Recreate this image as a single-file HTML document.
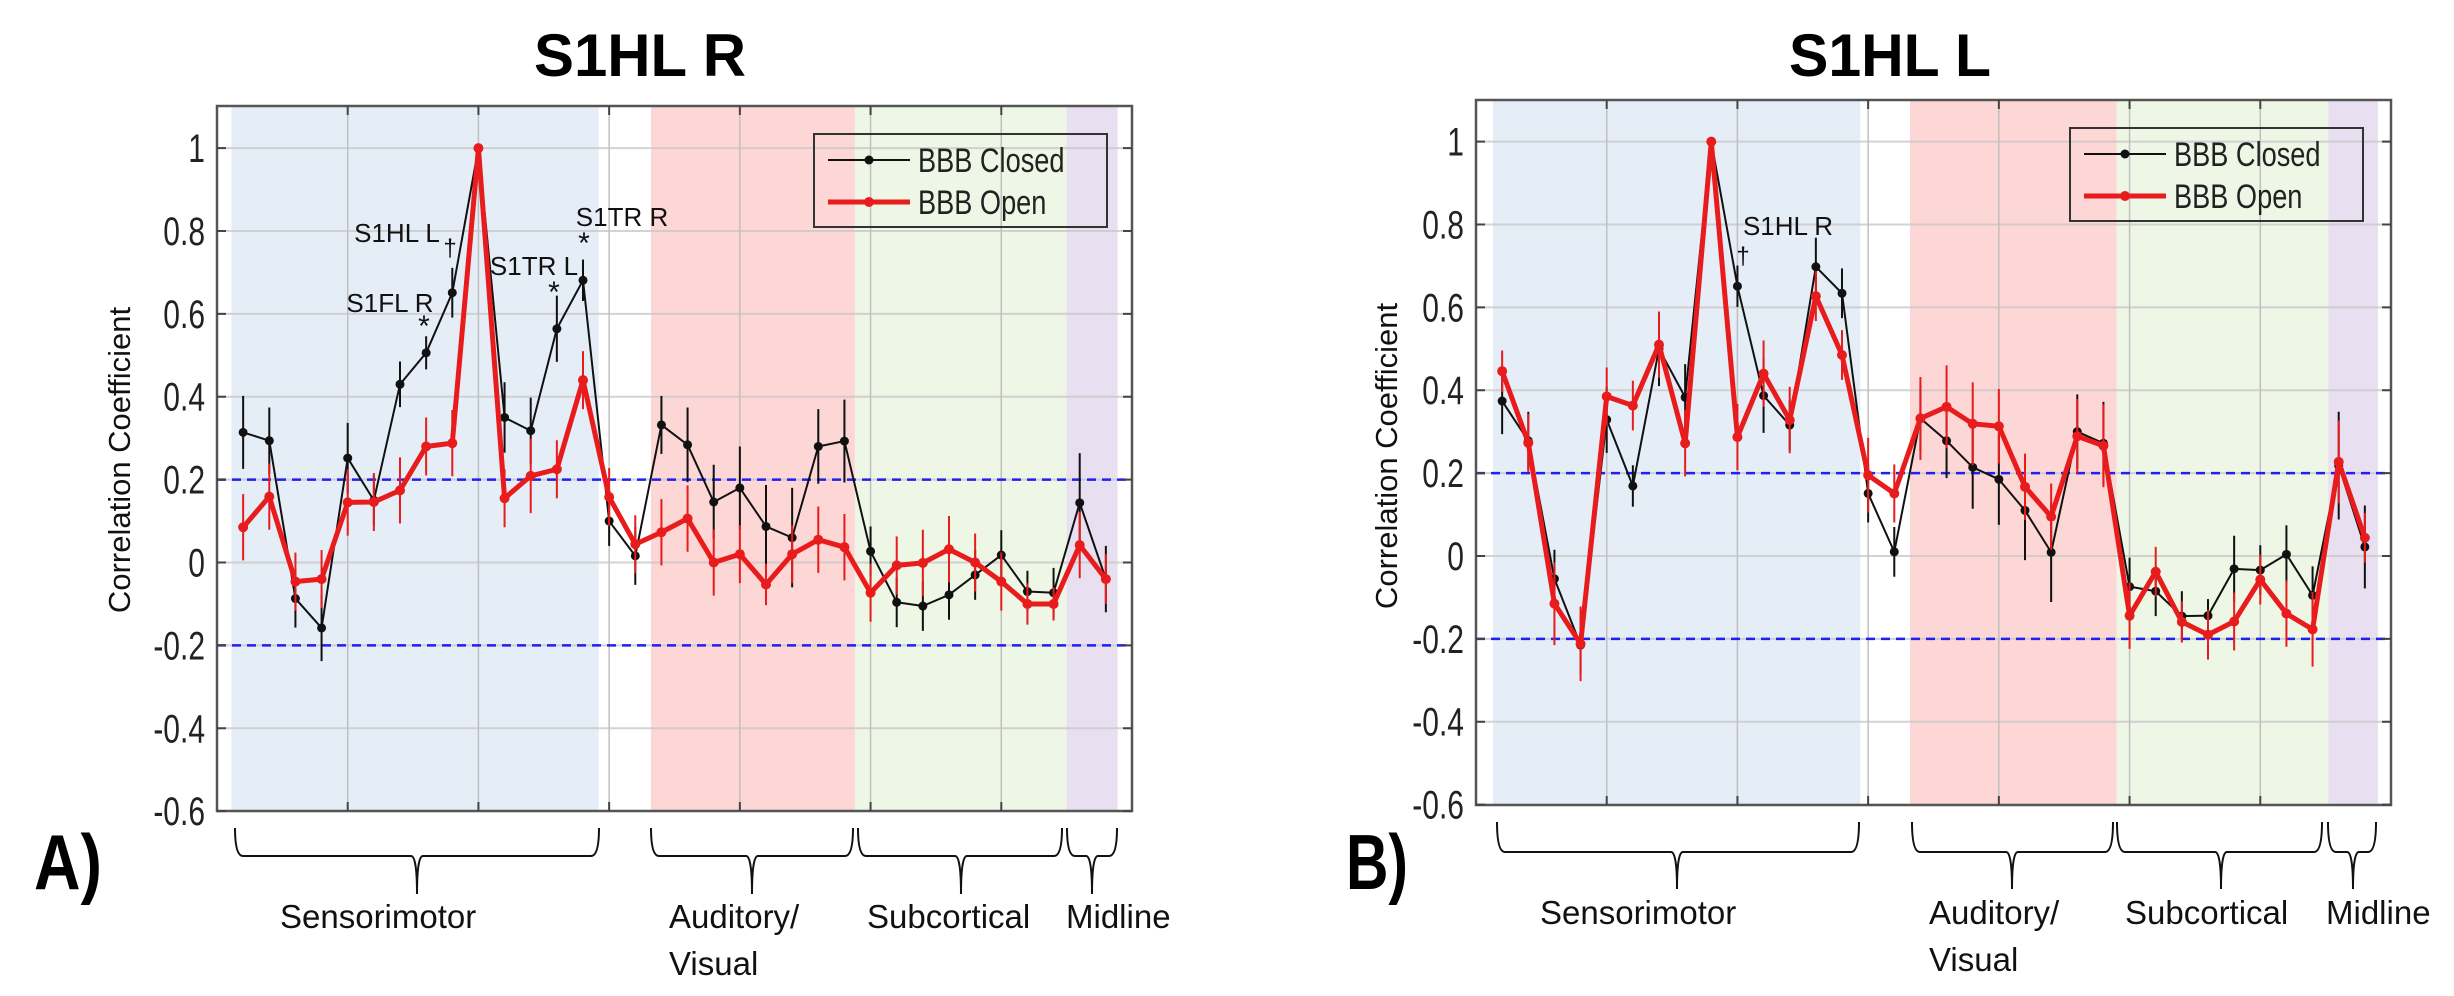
<!DOCTYPE html>
<html><head><meta charset="utf-8"><style>
html,body{margin:0;padding:0;background:#fff;}
svg{display:block;font-family:"Liberation Sans",sans-serif;}
</style></head><body>
<svg id="chart" width="2454" height="996" viewBox="0 0 2454 996" xmlns="http://www.w3.org/2000/svg">
<g id="panelA"></g>
<g id="panelB"></g>
</svg>
<script>
const yTicks = [-0.6,-0.4,-0.2,0,0.2,0.4,0.6,0.8,1];
const yTickLabels = ["-0.6","-0.4","-0.2","0","0.2","0.4","0.6","0.8","1"];
const xGridIdx = [4,9,14,19,24,29];
const closedA = [0.314,0.294,-0.087,-0.158,0.252,0.15,0.43,0.506,0.651,1.0,0.35,0.318,0.564,0.681,0.1,0.016,0.332,0.284,0.146,0.18,0.087,0.06,0.28,0.293,0.027,-0.096,-0.105,-0.078,-0.03,0.018,-0.07,-0.073,0.144,-0.04];
const openA = [0.085,0.159,-0.046,-0.04,0.145,0.146,0.174,0.28,0.288,1.0,0.155,0.209,0.225,0.44,0.158,0.044,0.073,0.106,0,0.02,-0.053,0.02,0.055,0.037,-0.073,-0.007,-0.001,0.032,0,-0.046,-0.1,-0.1,0.042,-0.04];
const errClosedA = [0.088,0.08,0.07,0.08,0.085,0.06,0.055,0.04,0.06,0,0.085,0.08,0.08,0.05,0.06,0.07,0.07,0.09,0.09,0.1,0.1,0.12,0.09,0.1,0.06,0.06,0.06,0.06,0.06,0.06,0.05,0.06,0.12,0.08];
const errOpenA = [0.08,0.08,0.07,0.07,0.08,0.07,0.08,0.07,0.08,0,0.07,0.09,0.07,0.07,0.07,0.07,0.08,0.08,0.08,0.07,0.05,0.07,0.08,0.08,0.07,0.07,0.08,0.08,0.07,0.07,0.05,0.04,0.08,0.06];
const closedB = [0.374,0.278,-0.055,-0.215,0.329,0.169,0.5,0.383,1.0,0.651,0.387,0.316,0.698,0.634,0.151,0.01,0.332,0.278,0.214,0.185,0.11,0.009,0.3,0.272,-0.074,-0.085,-0.145,-0.144,-0.031,-0.034,0.004,-0.095,0.218,0.022];
const openB = [0.446,0.273,-0.115,-0.212,0.385,0.363,0.51,0.272,1.0,0.287,0.44,0.328,0.627,0.485,0.195,0.151,0.332,0.36,0.319,0.313,0.167,0.095,0.289,0.266,-0.144,-0.038,-0.159,-0.19,-0.158,-0.057,-0.139,-0.177,0.227,0.044];
const errClosedB = [0.08,0.07,0.07,0.07,0.08,0.05,0.09,0.08,0,0.05,0.09,0.06,0.07,0.06,0.07,0.06,0.08,0.09,0.1,0.11,0.12,0.12,0.09,0.1,0.07,0.06,0.06,0.04,0.08,0.06,0.07,0.07,0.13,0.1];
const errOpenB = [0.05,0.07,0.1,0.09,0.07,0.06,0.08,0.08,0,0.08,0.08,0.08,0.06,0.06,0.09,0.07,0.1,0.1,0.1,0.09,0.08,0.08,0.09,0.1,0.08,0.06,0.05,0.06,0.07,0.06,0.08,0.09,0.1,0.06];

const NS="http://www.w3.org/2000/svg";
function mk(parent,tag,attrs,text){const e=document.createElementNS(NS,tag);for(const k in attrs)e.setAttribute(k,attrs[k]);if(text!==undefined)e.textContent=text;parent.appendChild(e);return e;}

function drawPanel(g, cfg, closed, open, eC, eO){
  const sx = (cfg.R-cfg.L)/35;
  const x = i => cfg.L + (i+1)*sx;
  const y = v => cfg.y0 - v*414.4;
  const bands=[["band-sensorimotor","#e5edf7",cfg.bands[0]],["band-auditory-visual","#fdd6d6",cfg.bands[1]],["band-subcortical","#eef6e6",cfg.bands[2]],["band-midline","#e8dff0",cfg.bands[3]]];
  bands.forEach(b=>{
    const r=mk(g,"rect",{x:x(b[2][0]),y:cfg.T,width:x(b[2][1])-x(b[2][0]),height:cfg.B-cfg.T,fill:b[1]});
    
    
  });
  yTicks.forEach(t=>{
    const l=mk(g,"line",{x1:cfg.L,x2:cfg.R,y1:y(t),y2:y(t),stroke:"#c8c8c8","stroke-width":2,"stroke-opacity":0.8});
    
    
  });
  xGridIdx.forEach(i=>{
    const l=mk(g,"line",{x1:x(i),x2:x(i),y1:cfg.T,y2:cfg.B,stroke:"#c0c0c0","stroke-width":1.5});
    
    
  });
  [0.2,-0.2].forEach(t=>{
    const l=mk(g,"line",{x1:cfg.L,x2:cfg.R,y1:y(t),y2:y(t),stroke:"#2020f0","stroke-width":2.5,"stroke-dasharray":"9,6"});
    
    
  });
  const box=mk(g,"rect",{x:cfg.L,y:cfg.T,width:cfg.R-cfg.L,height:cfg.B-cfg.T,fill:"none",stroke:"#555","stroke-width":2.5});
  
  
  yTicks.forEach((t,k)=>{
    mk(g,"line",{x1:cfg.L,x2:cfg.L+9,y1:y(t),y2:y(t),stroke:"#444","stroke-width":2});
    mk(g,"line",{x1:cfg.R,x2:cfg.R-9,y1:y(t),y2:y(t),stroke:"#444","stroke-width":2});
    const tx=mk(g,"text",{x:(cfg.L-12)/0.75,y:y(t)+14,"font-size":40,"text-anchor":"end",fill:"#222",transform:"scale(0.75,1)"},yTickLabels[k]);
    
    
  });
  xGridIdx.forEach(i=>{
    mk(g,"line",{x1:x(i),x2:x(i),y1:cfg.B,y2:cfg.B-9,stroke:"#444","stroke-width":2});
    mk(g,"line",{x1:x(i),x2:x(i),y1:cfg.T,y2:cfg.T+9,stroke:"#444","stroke-width":2});
  });
  function series(vals, errs, color, lw, r, name){
    const sg=mk(g,"g",{});
    
    
    vals.forEach((v,i)=>{
      if(errs[i]>0){
        const e=mk(sg,"line",{x1:x(i),x2:x(i),y1:y(v-errs[i]),y2:y(v+errs[i]),stroke:color,"stroke-width":2});
        
        
      }
    });
    const p=mk(sg,"polyline",{points:vals.map((v,i)=>x(i)+","+y(v)).join(" "),fill:"none",stroke:color,"stroke-width":lw,"stroke-linejoin":"round"});
    
    
    vals.forEach((v,i)=>{
      const c=mk(sg,"circle",{cx:x(i),cy:y(v),r:r,fill:color});
      
      
    });
  }
  series(closed,eC,"#111",2,4.5,"series-bbb-closed");
  series(open,eO,"#e81c1c",5,5,"series-bbb-open");
  const lg=mk(g,"g",{});
  
  
  const lx=cfg.leg[0], ly=cfg.leg[1];
  mk(lg,"rect",{x:lx,y:ly,width:293,height:93,fill:"none",stroke:"#333","stroke-width":2});
  mk(lg,"line",{x1:lx+14,x2:lx+96,y1:ly+26,y2:ly+26,stroke:"#111","stroke-width":2});
  mk(lg,"circle",{cx:lx+55,cy:ly+26,r:4.5,fill:"#111"});
  mk(lg,"line",{x1:lx+14,x2:lx+96,y1:ly+68,y2:ly+68,stroke:"#e81c1c","stroke-width":5});
  mk(lg,"circle",{cx:lx+55,cy:ly+68,r:5,fill:"#e81c1c"});
  const t1=mk(lg,"text",{x:(lx+104)/0.8,y:ly+38,"font-size":34,fill:"#222",transform:"scale(0.8,1)"},"BBB Closed");
  
  
  const t2=mk(lg,"text",{x:(lx+104)/0.8,y:ly+80,"font-size":34,fill:"#222",transform:"scale(0.8,1)"},"BBB Open");
  
  
  const tt=mk(g,"text",{x:cfg.titleX,y:76,"font-size":60,"font-weight":"bold","text-anchor":"middle",textLength:cfg.titleW,lengthAdjust:"spacingAndGlyphs"},cfg.title);
  
  
  const yt=mk(g,"text",{x:0,y:0,"font-size":31,"text-anchor":"middle",fill:"#111",transform:`translate(${cfg.yTitleX},${cfg.yTitleY}) rotate(-90)`},"Correlation Coefficient");
  
  
  const pl=mk(g,"text",{x:cfg.letter[0],y:cfg.letter[1],"font-size":78,"font-weight":"bold",textLength:cfg.letter[2],lengthAdjust:"spacingAndGlyphs"},cfg.letterText);
  
  
  cfg.braces.forEach(b=>{
    const [a,c,tip,name,lines,lx2]=b;
    const top=cfg.brTop, mid=cfg.brMid, bot=cfg.brBot;
    const d=`M${a},${top} Q${a},${mid} ${a+8},${mid} L${tip-6},${mid} Q${tip},${mid} ${tip},${bot} Q${tip},${mid} ${tip+6},${mid} L${c-8},${mid} Q${c},${mid} ${c},${top}`;
    const p=mk(g,"path",{d:d,fill:"none",stroke:"#111","stroke-width":2});
    
    
    lines.forEach((ln,k)=>{
      const t=mk(g,"text",{x:lx2,y:cfg.lblY+k*47,"font-size":33,fill:"#111"},ln);
      
      
    });
  });
  cfg.ann.forEach(a=>{
    const t=mk(g,"text",{x:a[0],y:a[1],"font-size":a[3]||26,fill:"#111","text-anchor":"middle"},a[2]);
    
    
  });
}

drawPanel(document.getElementById('panelA'),{
  L:217,R:1132,T:106,B:811,y0:562.5,
  bands:[[-0.45,13.6],[15.6,23.4],[23.4,31.5],[31.5,33.45]],
  leg:[814,134], title:"S1HL R", titleX:640, titleW:212,
  yTitleX:130, yTitleY:460, letter:[34,889,68], letterText:"A)",
  brTop:828,brMid:856,brBot:894, lblY:928,
  braces:[[235,599,417,"sensorimotor",["Sensorimotor"],280],[651,853,752,"auditory-visual",["Auditory/","Visual"],669],[858,1062,961,"subcortical",["Subcortical"],867],[1067,1117,1092,"midline",["Midline"],1066]],
  ann:[[397,242,"S1HL L"],[450,256,"†",24],[390,312,"S1FL R"],[424,336,"*",30],[534,275,"S1TR L"],[554,302,"*",30],[622,226,"S1TR R"],[584,253,"*",30]]
}, closedA, openA, errClosedA, errOpenA);

drawPanel(document.getElementById('panelB'),{
  L:1476,R:2391,T:100,B:805,y0:556,
  bands:[[-0.35,13.7],[15.6,23.5],[23.5,31.6],[31.6,33.5]],
  leg:[2070,128], title:"S1HL L", titleX:1890, titleW:202,
  yTitleX:1397, yTitleY:456, letter:[1346,889,62], letterText:"B)",
  brTop:822,brMid:852,brBot:889, lblY:924,
  braces:[[1497,1859,1677,"sensorimotor",["Sensorimotor"],1540],[1912,2113,2012,"auditory-visual",["Auditory/","Visual"],1929],[2117,2322,2221,"subcortical",["Subcortical"],2125],[2328,2376,2353,"midline",["Midline"],2326]],
  ann:[[1788,235,"S1HL R"],[1743,264,"†",24]]
}, closedB, openB, errClosedB, errOpenB);
</script>
</body></html>
